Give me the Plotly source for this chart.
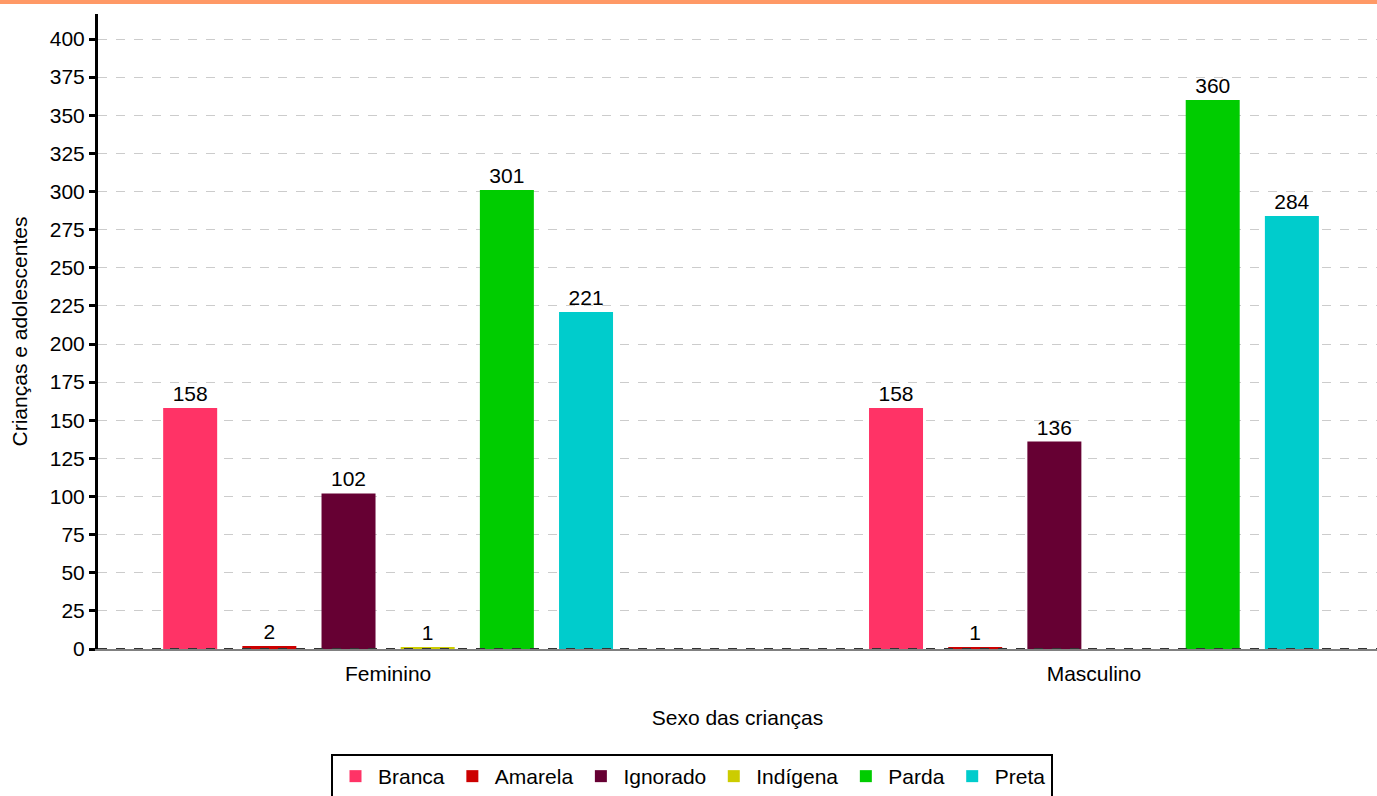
import plotly.graph_objects as go

categories = ["Feminino", "Masculino"]
series_names = ["Branca", "Amarela", "Ignorado", "Indígena", "Parda", "Preta"]
branca = [158, 158]
amarela = [2, 1]
ignorado = [102, 136]
indigena = [1, 0]
parda = [301, 360]
preta = [221, 284]
colors = ["#FF3366", "#CC0000", "#660033", "#CCCC00", "#00CC00", "#00CCCC"]
y_ticks = list(range(0, 401, 25))

series_values = [branca, amarela, ignorado, indigena, parda, preta]
FONT = "Arial, Liberation Sans, sans-serif"
FS = 21

fig = go.Figure()
xpos = list(range(len(categories)))
for name, vals, col in zip(series_names, series_values, colors):
    fig.add_trace(go.Bar(
        x=xpos, y=vals, name=name, marker=dict(color=col, line=dict(width=0)),
        text=[str(v) if v != 0 else "" for v in vals],
        textposition="outside", cliponaxis=False,
        textfont=dict(family=FONT, size=FS, color="#000000"),
    ))

W, H = 1377, 796
L, R, T, B = 98, 0, 14, 147
ph = H - T - B
pw = W - L - R

fig.update_layout(
    width=W, height=H,
    margin=dict(l=L, r=R, t=T, b=B, autoexpand=False),
    paper_bgcolor="white", plot_bgcolor="white",
    barmode="group", bargap=0.327, bargroupgap=0.318,
    font=dict(family=FONT, size=FS, color="#000000"),
    showlegend=True,
    legend=dict(
        orientation="h", x=(692 - L) / pw, xanchor="center",
        y=(649 - 754) / ph, yanchor="top",
        bordercolor="#000000", borderwidth=2,
        font=dict(family=FONT, size=FS, color="#000000"),
        itemwidth=35,
    ),
)
fig.update_xaxes(
    range=[-0.411, 1.401], tickmode="array", tickvals=xpos, ticktext=categories,
    showgrid=False, zeroline=False, showline=True, linecolor="#808080", linewidth=2,
    ticks="", tickfont=dict(family=FONT, size=FS, color="#000000"),
    ticklabelstandoff=5,
    title=dict(text="Sexo das crianças", font=dict(family=FONT, size=FS, color="#000000"), standoff=26),
    automargin=False,
)
fig.update_yaxes(
    range=[0, 416.4], tickmode="array", tickvals=y_ticks,
    showgrid=True, gridcolor="#CCCCCC", griddash="dash", gridwidth=1,
    zeroline=False, showline=True, linecolor="#000000", linewidth=3,
    ticks="outside", ticklen=6, tickwidth=3, tickcolor="#000000",
    tickfont=dict(family=FONT, size=FS, color="#000000"),
    title=dict(text="Crianças e adolescentes", font=dict(family=FONT, size=FS, color="#000000"), standoff=17),
    automargin=False,
)
# orange band at top of page
fig.add_shape(type="rect", xref="paper", yref="paper",
              x0=-L / pw, x1=1.0, y0=1 + (T - 4) / ph, y1=1 + T / ph,
              fillcolor="#FF9966", line=dict(width=0), layer="above")
# dashed dark baseline
fig.add_shape(type="line", xref="paper", yref="y", x0=0, x1=1, y0=0, y1=0,
              line=dict(color="#333333", width=2, dash="dash"), layer="above")

fig.write_html("out.html", config={"displayModeBar": False},
               post_script="document.body.style.margin='0';")
